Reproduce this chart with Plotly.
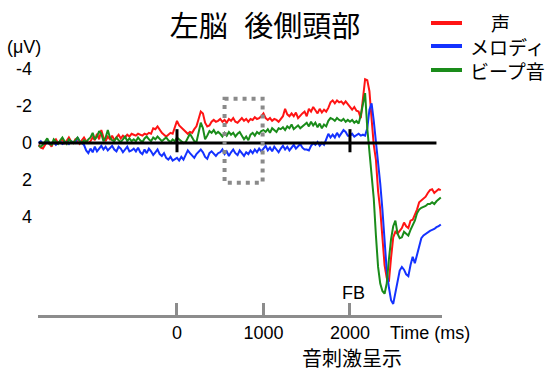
import plotly.graph_objects as go

# ---- data (µV, negative up), sampled every 25 ms from -1600 ms ----
t_start = -1600
t_step = 25

voice = [
    0.1, 0.25, 0.3, 0.1, -0.1, 0.05, 0.2, -0.1, -0.2, 0.0, -0.1, -0.2, 0.05, -0.15, -0.3, -0.1, 0.0, -0.2, -0.1, 0.05, -0.15, -0.3, -0.1, 0.0,
    -0.1, -0.3, -0.15, -0.5, -0.2, -0.7, -0.3, -0.1, -0.35, -0.2, -0.4, -0.15, -0.3, -0.45, -0.25, -0.4, -0.3, -0.45, -0.35, -0.5,
    -0.45, -0.4, -0.5, -0.45, -0.4, -0.5, -0.45, -0.55, -0.5, -0.8, -0.75, -0.9, -0.7, -0.55, -0.45, -0.35, -0.45, -0.55, -0.5, -0.9,
    -1.2, -0.95, -0.85, -0.75, -0.6, -0.5, -0.6, -0.55, -0.75, -0.9, -1.3, -1.7, -1.6, -1.1, -0.9, -0.95, -1.15, -1.25, -1.15, -1.2,
    -1.3, -1.15, -1.25, -1.1, -1.3, -1.2, -1.35, -1.15, -1.1, -1.25, -1.35, -1.2, -1.3, -1.15, -1.3, -1.25, -1.4, -1.3, -1.35, -1.45,
    -1.6, -1.35, -1.25, -1.35, -1.2, -1.3, -1.25, -1.15, -1.3, -1.45, -1.85, -1.55, -1.45, -1.6, -1.45, -1.65, -1.35, -1.5, -1.6, -1.7,
    -1.45, -1.85, -1.7, -1.95, -1.75, -1.6, -1.85, -1.65, -1.8, -1.7, -1.9, -2.2, -2.3, -2.15, -2.3, -2.2, -2.25, -2.1, -2.25, -2.1,
    -1.9, -1.8, -1.95, -1.75, -1.7, -1.35, -2.4, -3.45, -3.4, -2.8, -1.3, 0.1, 0.9, 2.6, 3.6, 5.4, 6.6, 7.3, 7.5, 6.2,
    5.1, 4.8, 4.9, 4.75, 4.6, 4.3, 4.5, 4.6, 4.2, 4.15, 3.9, 3.6, 3.2, 3.1, 2.95, 2.9, 2.7, 2.55, 2.5, 2.7, 2.6, 2.5, 2.55,
]

melody = [
    0.0, -0.1, 0.05, 0.0, -0.1, 0.05, 0.0, -0.05, 0.1, 0.0, -0.1, 0.05, 0.0, -0.05, 0.05, -0.1, -0.05, 0.0, -0.3, -0.1, 0.0, 0.1, 0.4, 0.55,
    0.3, 0.5, 0.2, 0.45, 0.3, 0.15, 0.35, 0.2, 0.4, 0.25, 0.15, 0.35, 0.45, 0.2, 0.3, 0.5, 0.35, 0.2, 0.45, 0.4,
    0.3, 0.45, 0.25, 0.5, 0.6, 0.35, 0.55, 0.3, 0.45, 0.65, 0.5, 0.35, 0.6, 0.7, 0.55, 0.8, 0.9, 0.75, 0.95, 0.85,
    0.8, 0.95, 0.75, 0.9, 0.6, 0.4, 0.55, 0.7, 0.8, 0.6, 0.45, 0.35, 0.5, 0.75, 0.85, 0.55, 0.45, 0.6, 0.7, 0.55,
    0.5, 0.35, 0.6, 0.45, 0.7, 0.5, 0.35, 0.55, 0.65, 0.4, 0.55, 0.7, 0.5, 0.6, 0.4, 0.55, 0.35, 0.5, 0.3, 0.45,
    0.3, 0.15, 0.4, 0.25, 0.45, 0.2, 0.35, 0.5, 0.3, 0.15, 0.35, 0.2, 0.4, 0.25, 0.1, 0.3, 0.2, 0.05, 0.25, 0.35,
    0.35, 0.4, 0.15, 0.0, 0.1, -0.05, 0.15, 0.0, 0.1, -0.2, -0.5, -0.3, -0.45, -0.3, -0.55, -0.35, -0.5, -0.7, -0.6, -0.4,
    -0.4, -0.5, -0.35, -0.45, -0.5, -0.4, -0.45, -0.4, -0.8, -1.8, -2.15, -1.2, -0.1, 1.1, 2.2, 3.6, 5.5, 6.9, 7.8, 8.5,
    8.7, 8.1, 7.4, 6.9, 6.7, 6.85, 7.1, 7.2, 6.6, 6.15, 6.5, 6.0, 5.5, 5.15, 5.0, 4.9, 4.85, 4.75, 4.7, 4.65, 4.55, 4.5, 4.4,
]

beep = [
    0.15, 0.2, 0.1, -0.1, -0.25, 0.0, 0.1, -0.2, -0.1, 0.05, -0.15, -0.3, -0.1, 0.05, -0.2, -0.1, 0.0, -0.15, -0.3, -0.1, 0.0, -0.15, -0.05, -0.2,
    -0.3, -0.55, -0.2, -0.35, -0.65, -0.5, -0.1, -0.3, -0.7, -0.3, -0.15, -0.1, -0.3, -0.15, -0.05, -0.2, -0.35, -0.1, -0.25, -0.1,
    -0.2, -0.1, -0.3, -0.15, -0.05, -0.25, -0.35, -0.2, -0.1, -0.3, -0.2, -0.35, -0.25, -0.1, -0.2, -0.3, -0.15, -0.05, -0.2, -0.1,
    -0.3, -0.2, -0.1, 0.0, -0.05, -0.3, -0.5, -0.3, -0.1, -0.05, -0.6, -1.1, -0.8, -0.2, -0.4, -0.65, -0.55, -0.7, -0.5, -0.6,
    -0.5, -0.35, -0.55, -0.4, -0.6, -0.45, -0.55, -0.35, -0.5, -0.6, -0.4, -0.2, -0.35, -0.15, -0.45, -0.55, -0.4, -0.6, -0.5, -0.65,
    -0.7, -0.6, -0.75, -0.55, -0.8, -0.7, -0.6, -0.8, -0.75, -0.85, -0.7, -0.9, -0.8, -1.0, -0.75, -0.85, -0.95, -0.8, -0.9, -1.05,
    -1.1, -0.9, -1.15, -0.95, -1.1, -0.85, -1.05, -0.8, -1.0, -0.9, -1.2, -1.35, -1.3, -1.2, -1.35, -1.25, -1.2, -1.3, -1.15, -1.25,
    -1.15, -1.25, -1.1, -1.2, -1.05, -1.5, -2.2, -2.7, -0.8, 0.5, 1.4, 3.0, 5.0, 6.7, 7.6, 8.0, 8.15, 7.6, 6.3, 5.2,
    4.5, 4.2, 4.9, 5.15, 5.1, 4.8, 4.9, 5.0, 4.7, 4.45, 4.2, 3.8, 3.6, 3.5, 3.45, 3.4, 3.3, 3.3, 3.2, 3.3, 3.15, 3.05, 2.95,
]

times = [t_start + i * t_step for i in range(len(voice))]

series_names = ["声", "メロディ", "ビープ音"]
series_values = [voice, melody, beep]
series_colors = ["#ff1414", "#1432ff", "#1a8c1a"]

x_tick_vals = [0, 1000, 2000]
x_tick_text = ["0", "1000", "2000"]
y_tick_vals = [-4, -2, 0, 2, 4]
y_tick_text = ["-4", "-2", "0", "2", "4"]
marker_times = [0, 2000]          # onset / FB marks on the zero line
window_ms = [550, 990]            # dotted analysis window
window_uv = [-2.4, 2.15]
baseline_span = [-1600, 3000]

CJK = "Noto Sans CJK JP"
LAT = "Liberation Sans, Arial"

# plot area in pixels (for placing paper-referenced decorations)
W, H = 560, 373
L, R, T, B = 38, 118, 60, 58
PW, PH = W - L - R, H - T - B


def px(xp):
    return (xp - L) / PW


def py(yp):
    return (H - B - yp) / PH


fig = go.Figure()
for name, vals, col in zip(series_names, series_values, series_colors):
    fig.add_trace(go.Scatter(x=times, y=vals, mode="lines", line=dict(color=col, width=2),
                             name=name, showlegend=False, hoverinfo="skip"))

shapes = [
    dict(type="line", xref="x", yref="y", x0=baseline_span[0], x1=baseline_span[1], y0=0, y1=0,
         line=dict(color="black", width=3), layer="above"),
    dict(type="rect", xref="x", yref="y", x0=window_ms[0], x1=window_ms[1], y0=window_uv[0], y1=window_uv[1],
         line=dict(color="#8a8a8a", width=4, dash="4px,5px"), layer="above"),
]
for mt in marker_times:
    shapes.append(dict(type="line", xref="x", yref="y", x0=mt, x1=mt, y0=-0.75, y1=0.5,
                       line=dict(color="black", width=3), layer="above"))

# custom legend (line samples + labels)
legend_rows_px = [23, 46, 70]
for col, ry in zip(series_colors, legend_rows_px):
    shapes.append(dict(type="line", xref="paper", yref="paper", x0=px(431), x1=px(462),
                       y0=py(ry), y1=py(ry), line=dict(color=col, width=4)))

annotations = [
    dict(text="(μV)", xref="paper", yref="paper", x=px(24), y=py(47), xanchor="center", yanchor="middle",
         showarrow=False, font=dict(family=LAT, size=18, color="black")),
    dict(text="FB", xref="x", yref="paper", x=2040, y=py(293), xanchor="center", yanchor="middle",
         showarrow=False, font=dict(family=LAT, size=18, color="black")),
    dict(text="Time (ms)", xref="paper", yref="paper", x=px(430), y=py(333), xanchor="center", yanchor="middle",
         showarrow=False, font=dict(family=LAT, size=18, color="black")),
    dict(text="音刺激呈示", xref="paper", yref="paper", x=px(351.5), y=py(357), xanchor="center",
         yanchor="middle", showarrow=False, font=dict(family=CJK, size=20, color="black")),
    dict(text=series_names[0], xref="paper", yref="paper", x=px(501), y=py(22), xanchor="center",
         yanchor="middle", showarrow=False, font=dict(family=CJK, size=19, color="black")),
    dict(text=series_names[1], xref="paper", yref="paper", x=px(468), y=py(47), xanchor="left",
         yanchor="middle", showarrow=False, font=dict(family=CJK, size=19, color="black")),
    dict(text=series_names[2], xref="paper", yref="paper", x=px(468), y=py(71), xanchor="left",
         yanchor="middle", showarrow=False, font=dict(family=CJK, size=19, color="black")),
]

fig.update_layout(
    width=W, height=H,
    margin=dict(l=L, r=R, t=T, b=B),
    plot_bgcolor="white", paper_bgcolor="white",
    title=dict(text="左脳\u2002\u200a後側頭部", x=265 / W, xref="container", xanchor="center",
               y=1 - 27 / H, yref="container", yanchor="middle",
               font=dict(family=CJK, size=29, color="black")),
    xaxis=dict(range=[-1607, 3064], showgrid=False, zeroline=False, showline=True,
               linecolor="#8c8c8c", linewidth=2.5, ticks="inside", ticklen=12, tickwidth=2.5,
               tickcolor="#8c8c8c", tickvals=x_tick_vals, ticktext=x_tick_text,
               tickfont=dict(family=LAT, size=18, color="black")),
    yaxis=dict(range=[9.30, -4.49], showgrid=False, zeroline=False, showline=False, ticks="",
               tickvals=y_tick_vals, ticktext=y_tick_text, ticklabelstandoff=5,
               tickfont=dict(family=LAT, size=18, color="black")),
    shapes=shapes,
    annotations=annotations,
    showlegend=False,
)

fig.write_html("out.html", config={"displayModeBar": False},
               post_script="document.body.style.margin='0px';")
